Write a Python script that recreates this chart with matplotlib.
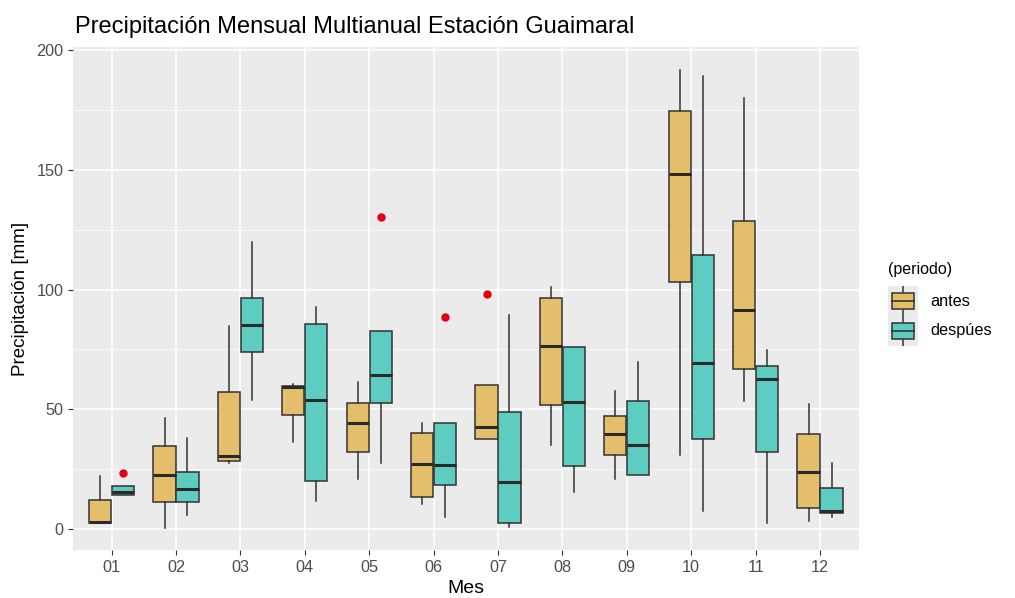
import matplotlib
matplotlib.use("Agg")
import matplotlib.pyplot as plt
from matplotlib.patches import Rectangle
from matplotlib.lines import Line2D

plt.rcParams['font.family'] = ['Liberation Sans', 'DejaVu Sans']

meses = ["01", "02", "03", "04", "05", "06", "07", "08", "09", "10", "11", "12"]
periodos = ["antes", "despúes"]
colores = {"antes": "#E5BE6B", "despúes": "#5ECDC1"}

# stats per month: whislo, q1, med, q3, whishi
antes_whislo = [2.2, 0.4, 27.3, 36.4, 20.9, 10.2, 37.3, 35.2, 20.9, 31.0, 53.3, 3.2]
antes_q1     = [2.2, 11.1, 28.3, 47.6, 32.2, 13.2, 37.3, 51.7, 31.0, 103.2, 66.6, 8.5]
antes_med    = [3.0, 22.6, 30.3, 59.3, 44.0, 26.9, 42.5, 76.3, 39.7, 148.3, 91.4, 23.7]
antes_q3     = [12.2, 34.5, 57.2, 59.6, 52.7, 40.1, 59.9, 96.5, 47.1, 174.8, 128.5, 39.8]
antes_whishi = [22.0, 46.4, 84.7, 60.3, 61.3, 44.0, 59.9, 101.1, 57.5, 191.6, 180.1, 52.2]
antes_fliers = [[], [], [], [], [], [], [98.0], [], [], [], [], []]

desp_whislo = [13.9, 5.6, 54.0, 11.5, 27.6, 4.9, 0.7, 15.5, 22.3, 7.4, 2.2, 5.0]
desp_q1     = [13.9, 11.1, 73.8, 19.9, 52.7, 18.4, 2.2, 26.2, 22.3, 37.3, 32.2, 6.4]
desp_med    = [15.3, 16.4, 85.1, 53.6, 64.1, 26.5, 19.6, 53.1, 35.2, 69.1, 62.4, 7.4]
desp_q3     = [17.8, 23.9, 96.5, 85.4, 82.6, 44.3, 48.7, 76.0, 53.3, 114.6, 68.2, 17.1]
desp_whishi = [17.8, 38.0, 119.9, 92.8, 82.6, 44.3, 89.4, 76.0, 69.6, 189.1, 74.9, 27.3]
desp_fliers = [[23.4], [], [], [], [130.2], [88.6], [], [], [], [], [], []]

yticks = [0, 50, 100, 150, 200]

fig = plt.figure(figsize=(10.15, 5.98), dpi=100)
ax = fig.add_axes([0.0719, 0.0803, 0.7741, 0.8411])
ax.set_facecolor("#EBEBEB")

def stats(wl, q1, md, q3, wh, fl):
    return [dict(whislo=a, q1=b, med=c, q3=d, whishi=e, fliers=f)
            for a, b, c, d, e, f in zip(wl, q1, md, q3, wh, fl)]

sa = stats(antes_whislo, antes_q1, antes_med, antes_q3, antes_whishi, antes_fliers)
sd = stats(desp_whislo, desp_q1, desp_med, desp_q3, desp_whishi, desp_fliers)

xs = list(range(1, len(meses) + 1))
w = 0.345
off = 0.178
for st, sign, per in [(sa, -1, "antes"), (sd, 1, "despúes")]:
    ax.bxp(st, positions=[x + sign * off for x in xs], widths=w,
           patch_artist=True, showcaps=False,
           boxprops=dict(facecolor=colores[per], edgecolor="#333333", linewidth=1.1),
           medianprops=dict(color="#2a2a2a", linewidth=2.2),
           whiskerprops=dict(color="#333333", linewidth=1.1),
           flierprops=dict(marker="o", markerfacecolor="#E3000F", markeredgecolor="#E3000F",
                           markersize=5),
           manage_ticks=False, zorder=3)

ax.set_xlim(0.4, 12.6)
ax.set_ylim(-8.9, 201.4)
ax.set_xticks(xs)
ax.set_xticklabels(meses)
ax.set_yticks(yticks)
ax.set_yticks([25, 75, 125, 175], minor=True)
ax.grid(which="major", color="white", linewidth=1.1, zorder=0)
ax.grid(which="minor", axis="y", color="white", linewidth=0.5, zorder=0)
ax.set_axisbelow(True)
for s in ax.spines.values():
    s.set_visible(False)
ax.tick_params(which="major", colors="#333333", labelcolor="#4D4D4D", labelsize=11.7, length=3.5)
ax.tick_params(which="minor", length=0)
ax.set_xlabel("Mes", fontsize=14, color="black", labelpad=4)
ax.set_ylabel("Precipitación [mm]", fontsize=13.5, color="black", labelpad=5)
fig.text(75 / 1015, 1 - 27 / 598, "Precipitación Mensual Multianual Estación Guaimaral",
         fontsize=17, va="center", ha="left")

# legend
W, H = 1015, 598
fig.text(888 / W, 1 - 270 / H, "(periodo)", fontsize=11.5, va="center", ha="left")
for i, per in enumerate(periodos):
    yc = 301 + i * 30
    kax = fig.add_axes([888 / W, 1 - (yc + 15) / H, 30 / W, 30 / H])
    kax.set_xlim(0, 1); kax.set_ylim(0, 1)
    kax.set_facecolor("#EBEBEB")
    kax.set_xticks([]); kax.set_yticks([])
    for s in kax.spines.values():
        s.set_visible(False)
    kax.add_line(Line2D([0.5, 0.5], [0.0, 1.0], color="#333333", lw=1.1))
    kax.add_patch(Rectangle((0.12, 0.22), 0.76, 0.56, facecolor=colores[per],
                            edgecolor="#333333", lw=1.1, zorder=2))
    kax.add_line(Line2D([0.12, 0.88], [0.5, 0.5], color="#2a2a2a", lw=1.1, zorder=3))
    fig.text(930 / W, 1 - yc / H, per, fontsize=11.7, va="center", ha="left")

fig.savefig("out.png", dpi=100)
